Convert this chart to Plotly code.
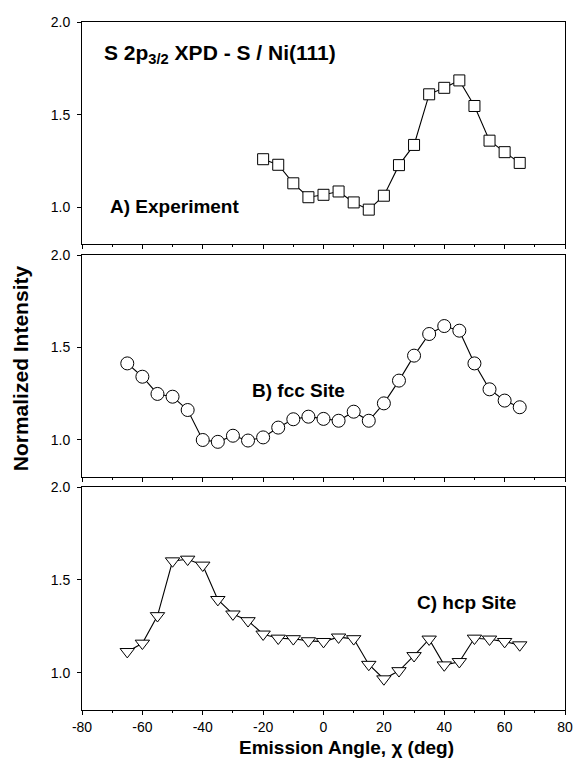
import plotly.graph_objects as go

# ---------------- data ----------------
angle_exp = [-20, -15, -10, -5, 0, 5, 10, 15, 20, 25, 30, 35, 40, 45, 50, 55, 60, 65]
intensity_exp = [1.26, 1.23, 1.13, 1.055, 1.068, 1.086, 1.027, 0.988, 1.063, 1.228, 1.337,
                 1.61, 1.645, 1.685, 1.547, 1.36, 1.298, 1.24]

angle_fcc = [-65, -60, -55, -50, -45, -40, -35, -30, -25, -20, -15, -10, -5, 0, 5, 10, 15,
             20, 25, 30, 35, 40, 45, 50, 55, 60, 65]
intensity_fcc = [1.414, 1.342, 1.249, 1.234, 1.162, 1.0, 0.99, 1.023, 0.997, 1.014, 1.067,
                 1.112, 1.126, 1.114, 1.104, 1.153, 1.104, 1.198, 1.321, 1.456, 1.573,
                 1.616, 1.591, 1.414, 1.274, 1.213, 1.177]

angle_hcp = [-65, -60, -55, -50, -45, -40, -35, -30, -25, -20, -15, -10, -5, 0, 5, 10, 15,
             20, 25, 30, 35, 40, 45, 50, 55, 60, 65]
intensity_hcp = [1.114, 1.159, 1.307, 1.602, 1.611, 1.579, 1.394, 1.316, 1.28, 1.208, 1.186,
                 1.183, 1.172, 1.168, 1.192, 1.183, 1.045, 0.967, 1.011, 1.092, 1.181,
                 1.042, 1.06, 1.186, 1.181, 1.168, 1.15]

x_tickvals = [-80, -60, -40, -20, 0, 20, 40, 60, 80]
x_ticktext = ["-80", "-60", "-40", "-20", "0", "20", "40", "60", "80"]
x_minorvals = [-70, -50, -30, -10, 10, 30, 50, 70]
y_tickvals = [1.0, 1.5, 2.0]
y_ticktext = ["1.0", "1.5", "2.0"]

panel_labels = ["A) Experiment", "B) fcc Site", "C) hcp Site"]
title_text = "S 2p<sub>3/2</sub> XPD - S / Ni(111)"
x_title = "Emission Angle, χ (deg)"
y_title = "Normalized Intensity"

# ---------------- figure ----------------
FONT = "Liberation Sans, Arial, sans-serif"
fig = go.Figure()

series = [
    (angle_exp, intensity_exp, "square", 11, "x", "y"),
    (angle_fcc, intensity_fcc, "circle", 13, "x2", "y2"),
    (angle_hcp, intensity_hcp, "triangle-down", 12.5, "x3", "y3"),
]
for xs, ys, sym, sz, xa, ya in series:
    fig.add_trace(go.Scatter(
        x=xs, y=ys, mode="lines+markers", xaxis=xa, yaxis=ya,
        line=dict(color="black", width=1.1),
        marker=dict(symbol=sym, size=sz, color="white",
                    line=dict(color="black", width=1)),
        showlegend=False, hoverinfo="skip"))

domains = {"y": [0.6766, 1.0], "y2": [0.3387, 0.6613], "y3": [0.0, 0.3241]}

axis_common = dict(showline=True, mirror=True, linecolor="black", linewidth=1,
                   showgrid=False, zeroline=False, ticks="outside", ticklen=4,
                   tickwidth=1, tickcolor="black")

layout = dict(
    width=584, height=781,
    margin=dict(l=82, r=11, t=22, b=71),
    paper_bgcolor="white", plot_bgcolor="white",
    font=dict(family=FONT, color="black", size=14),
)
for i, (xa, ya) in enumerate([("xaxis", "yaxis"), ("xaxis2", "yaxis2"), ("xaxis3", "yaxis3")]):
    yname = ya.replace("axis", "")
    xname = xa.replace("axis", "")
    layout[xa] = dict(axis_common, range=[-80, 80], domain=[0, 1], anchor=yname,
                      tickvals=x_tickvals, ticktext=x_ticktext,
                      showticklabels=(i == 2),
                      tickfont=dict(size=14),
                      minor=dict(tickvals=x_minorvals, ticks="outside", ticklen=2,
                                 tickcolor="black"))
    layout[ya] = dict(axis_common, range=[0.8, 2.0], domain=domains[yname], anchor=xname,
                      tickvals=y_tickvals, ticktext=y_ticktext, tickfont=dict(size=14),
                      ticklabelstandoff=4)
fig.update_layout(**layout)

annotations = [
    dict(text="<b>" + title_text + "</b>", x=-73.5, y=1.825, xref="x", yref="y",
         xanchor="left", yanchor="middle", showarrow=False, font=dict(size=21)),
    dict(text="<b>" + panel_labels[0] + "</b>", x=-71.5, y=1.005, xref="x", yref="y",
         xanchor="left", yanchor="middle", showarrow=False, font=dict(size=19)),
    dict(text="<b>" + panel_labels[1] + "</b>", x=-24.4, y=1.27, xref="x2", yref="y2",
         xanchor="left", yanchor="middle", showarrow=False, font=dict(size=19)),
    dict(text="<b>" + panel_labels[2] + "</b>", x=30.3, y=1.376, xref="x3", yref="y3",
         xanchor="left", yanchor="middle", showarrow=False, font=dict(size=19)),
    dict(text="<b>" + x_title + "</b>", x=0.548, y=-0.0552, xref="paper", yref="paper",
         xanchor="center", yanchor="middle", showarrow=False, font=dict(size=19)),
    dict(text="<b>" + y_title + "</b>", x=-0.128, y=0.497, xref="paper", yref="paper",
         xanchor="center", yanchor="middle", showarrow=False, textangle=-90,
         font=dict(size=21)),
]
fig.update_layout(annotations=annotations)

fig.write_html("out.html")
